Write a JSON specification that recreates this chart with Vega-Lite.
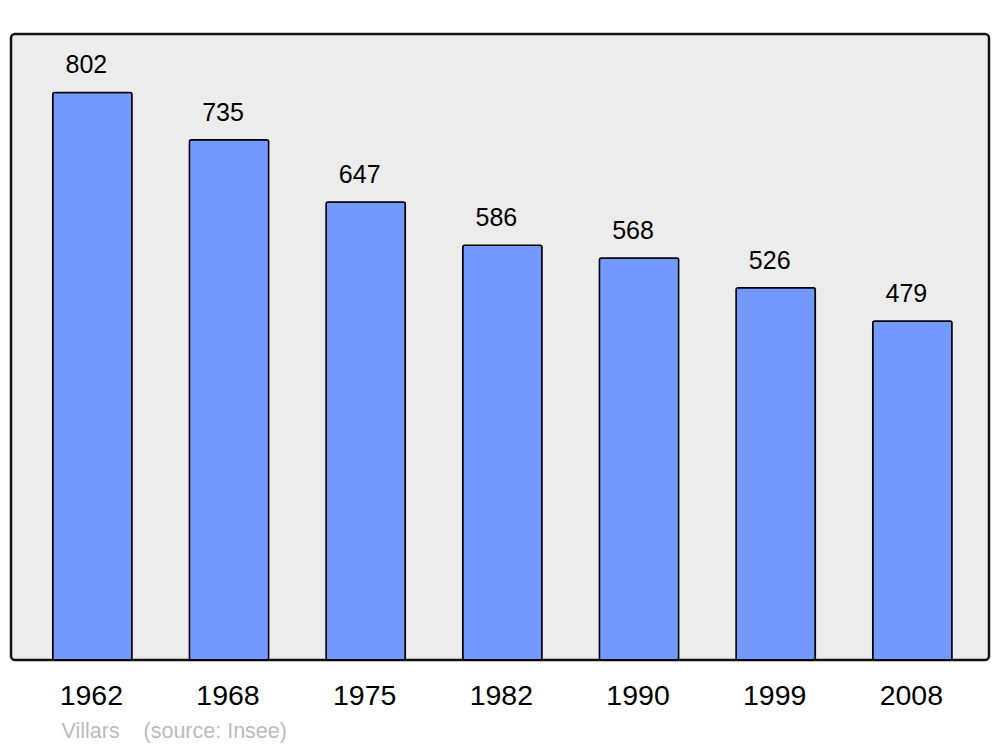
{
  "$schema": "https://vega.github.io/schema/vega-lite/v6.json",
  "width": 978,
  "height": 626,
  "autosize": {"type": "none"},
  "padding": {"left": 11, "top": 34, "right": 11, "bottom": 87},
  "background": "white",
  "config": {
    "font": "Liberation Sans",
    "view": {"fill": "#ececec", "stroke": "#111111", "strokeWidth": 2.5, "cornerRadius": 4}
  },
  "data": {
    "values": [
      {"year": "1962", "pop": 802},
      {"year": "1968", "pop": 735},
      {"year": "1975", "pop": 647},
      {"year": "1982", "pop": 586},
      {"year": "1990", "pop": 568},
      {"year": "1999", "pop": 526},
      {"year": "2008", "pop": 479}
    ]
  },
  "encoding": {
    "x": {
      "field": "year",
      "type": "nominal",
      "sort": null,
      "scale": {"paddingInner": 0.42, "paddingOuter": 0.288, "align": 0.53},
      "axis": {
        "title": "Villars\u00a0\u00a0\u00a0\u00a0(source: Insee)",
        "titleFontSize": 21.5,
        "titleFontWeight": "normal",
        "titleColor": "#bbbbbb",
        "titleAlign": "left",
        "titleAnchor": "start",
        "titleBaseline": "alphabetic",
        "titleX": 50,
        "titleY": 77,
        "labelAngle": 0,
        "labelFontSize": 28.5,
        "labelColor": "black",
        "labelPadding": 21,
        "labelOffset": -1,
        "ticks": false,
        "domain": false,
        "grid": false
      }
    },
    "y": {
      "field": "pop",
      "type": "quantitative",
      "scale": {"domain": [0, 884.5], "nice": false},
      "axis": null
    }
  },
  "layer": [
    {
      "mark": {"type": "bar", "color": "#7399ff", "stroke": "black", "strokeWidth": 1.5, "cornerRadius": 2}
    },
    {
      "mark": {"type": "text", "fontSize": 25, "color": "black", "baseline": "alphabetic", "dy": -19, "dx": -6},
      "encoding": {"text": {"field": "pop", "type": "quantitative"}}
    }
  ]
}
